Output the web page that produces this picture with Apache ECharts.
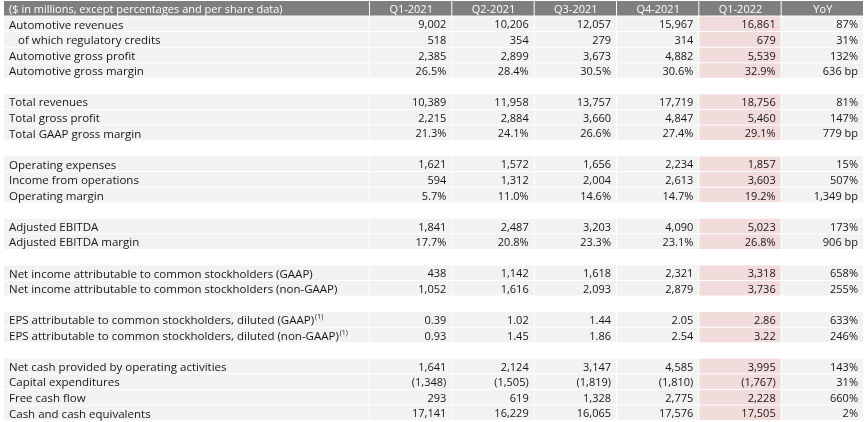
<!DOCTYPE html>
<html><head><meta charset="utf-8">
<script src="https://cdn.jsdelivr.net/npm/echarts@6/dist/echarts.min.js"></script>
<style>html,body{margin:0;padding:0;background:#fff}#c{width:865px;height:422px}</style>
</head><body><div id="c"></div>
<script>
// ---- data ----
const headerLabel = '($ in millions, except percentages and per share data)';
const columns = ['Q1-2021', 'Q2-2021', 'Q3-2021', 'Q4-2021', 'Q1-2022', 'YoY'];
const rowLabels = [
  'Automotive revenues', '  of which regulatory credits', 'Automotive gross profit', 'Automotive gross margin', '',
  'Total revenues', 'Total gross profit', 'Total GAAP gross margin', '',
  'Operating expenses', 'Income from operations', 'Operating margin', '',
  'Adjusted EBITDA', 'Adjusted EBITDA margin', '',
  'Net income attributable to common stockholders (GAAP)', 'Net income attributable to common stockholders (non-GAAP)', '',
  'EPS attributable to common stockholders, diluted (GAAP)', 'EPS attributable to common stockholders, diluted (non-GAAP)', '',
  'Net cash provided by operating activities', 'Capital expenditures', 'Free cash flow', 'Cash and cash equivalents'
];
// n = number, p = percent, e = EPS
const rowFormat = ['n','n','n','p','', 'n','n','p','', 'n','n','p','', 'n','p','', 'n','n','', 'e','e','', 'n','n','n','n'];
const rowFootnote = [0,0,0,0,0, 0,0,0,0, 0,0,0,0, 0,0,0, 0,0,0, 1,1,0, 0,0,0,0];
const q1_2021 = [9002, 518, 2385, 26.5, null, 10389, 2215, 21.3, null, 1621, 594, 5.7, null, 1841, 17.7, null, 438, 1052, null, 0.39, 0.93, null, 1641, -1348, 293, 17141];
const q2_2021 = [10206, 354, 2899, 28.4, null, 11958, 2884, 24.1, null, 1572, 1312, 11.0, null, 2487, 20.8, null, 1142, 1616, null, 1.02, 1.45, null, 2124, -1505, 619, 16229];
const q3_2021 = [12057, 279, 3673, 30.5, null, 13757, 3660, 26.6, null, 1656, 2004, 14.6, null, 3203, 23.3, null, 1618, 2093, null, 1.44, 1.86, null, 3147, -1819, 1328, 16065];
const q4_2021 = [15967, 314, 4882, 30.6, null, 17719, 4847, 27.4, null, 2234, 2613, 14.7, null, 4090, 23.1, null, 2321, 2879, null, 2.05, 2.54, null, 4585, -1810, 2775, 17576];
const q1_2022 = [16861, 679, 5539, 32.9, null, 18756, 5460, 29.1, null, 1857, 3603, 19.2, null, 5023, 26.8, null, 3318, 3736, null, 2.86, 3.22, null, 3995, -1767, 2228, 17505];
const yoy = [87, 31, 132, 636, null, 81, 147, 779, null, 15, 507, 1349, null, 173, 906, null, 658, 255, null, 633, 246, null, 143, 31, 660, 2];
const highlightColumn = 'Q1-2022';

// ---- styling ----
const FONT = '"Open Sans", sans-serif';
const FS = 11;
const FS_LAB = 11.5;
const C_HEAD = '#7f7f7f', C_ROW = '#f2f2f2', C_PINK = '#f2dcdb', C_TXT = '#161616';

function fmt(v, f, isYoy) {
  if (v === null || v === undefined) return '';
  if (isYoy) return f === 'p' ? v.toLocaleString('en-US') + ' bp' : v + '%';
  if (f === 'p') return v.toFixed(1) + '%';
  if (f === 'e') return v.toFixed(2);
  const s = Math.abs(v).toLocaleString('en-US');
  return v < 0 ? '(' + s + ')' : s;
}

const series = [q1_2021, q2_2021, q3_2021, q4_2021, q1_2022, yoy];
const nRows = rowLabels.length + 1;
const rowCats = Array.from({length: nRows}, (_, i) => String(i));

const cells = [];
columns.forEach((c, ci) => {
  cells.push({v: [ci, 0], text: c, head: true});
  rowLabels.forEach((lab, ri) => {
    if (lab === '') return;
    cells.push({v: [ci, ri + 1], text: fmt(series[ci][ri], rowFormat[ri], c === 'YoY'), pink: c === highlightColumn});
  });
});
const labelCells = [{v: [0, 0], text: headerLabel, head: true}];
rowLabels.forEach((lab, ri) => {
  if (lab === '') return;
  labelCells.push({v: [0, ri + 1], text: lab.trim(), indent: lab.startsWith(' '), foot: rowFootnote[ri]});
});

function makeRender(list, isLabel) {
  return function (params, api) {
    const cell = list[params.dataIndex];
    const p = api.coord([api.value(0), api.value(1)]);
    const sz = api.size([1, 1]);
    const x0 = p[0] - sz[0] / 2, y0 = p[1] - sz[1] / 2;
    const fill = cell.head ? C_HEAD : (cell.pink ? C_PINK : C_ROW);
    const children = [{
      type: 'rect',
      shape: {x: x0, y: y0, width: sz[0] - 1, height: sz[1] - 1},
      style: {fill: fill}
    }];
    let tx, align;
    if (isLabel) { tx = x0 + (cell.indent ? 14 : 5); align = 'left'; }
    else if (cell.head) { tx = x0 + sz[0] / 2; align = 'center'; }
    else { tx = x0 + sz[0] - 6; align = 'right'; }
    const fs = (isLabel && !cell.head) ? FS_LAB : FS;
    const st = {
      x: tx, y: y0 + (sz[1] - 1) / 2 + 1.5, align: align, verticalAlign: 'middle',
      fontFamily: FONT, fontSize: fs, fill: cell.head ? '#ffffff' : C_TXT
    };
    if (cell.foot) {
      st.text = '{a|' + cell.text + '}{s|(1)}';
      st.rich = {
        a: {fontFamily: FONT, fontSize: fs, fill: C_TXT, lineHeight: 14},
        s: {fontFamily: FONT, fontSize: 7, fill: C_TXT, verticalAlign: 'top', lineHeight: 14, padding: [0, 0, 6, 1]}
      };
    } else st.text = cell.text;
    children.push({type: 'text', style: st});
    return {type: 'group', children: children};
  };
}

const chart = echarts.init(document.getElementById('c'), null, {renderer: 'canvas'});
chart.setOption({
  animation: false,
  grid: [
    {left: 4, top: 1, width: 366, height: 420},
    {left: 370, top: 1, width: 494, height: 420}
  ],
  xAxis: [
    {type: 'category', gridIndex: 0, data: ['label'], show: false},
    {type: 'category', gridIndex: 1, data: columns, show: false}
  ],
  yAxis: [
    {type: 'category', gridIndex: 0, data: rowCats, inverse: true, show: false},
    {type: 'category', gridIndex: 1, data: rowCats, inverse: true, show: false}
  ],
  series: [
    {type: 'custom', xAxisIndex: 0, yAxisIndex: 0, data: labelCells.map(c => c.v), renderItem: makeRender(labelCells, true), silent: true},
    {type: 'custom', xAxisIndex: 1, yAxisIndex: 1, data: cells.map(c => c.v), renderItem: makeRender(cells, false), silent: true}
  ]
});
</script></body></html>
